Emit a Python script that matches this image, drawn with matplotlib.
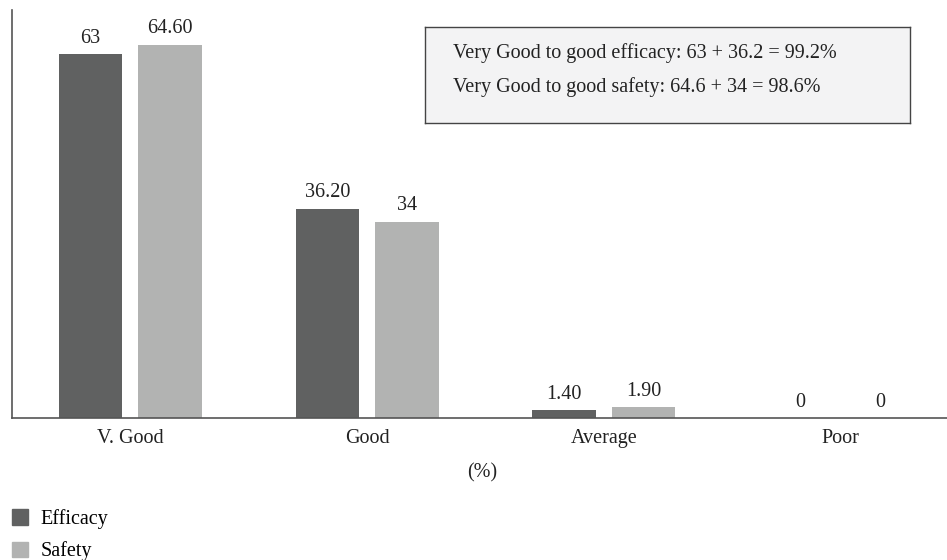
import matplotlib
matplotlib.use("Agg")
import matplotlib.pyplot as plt
from matplotlib.patches import Patch
import numpy as np

categories = ["V. Good", "Good", "Average", "Poor"]
efficacy = [63, 36.2, 1.4, 0]
safety = [64.6, 34, 1.9, 0]
eff_labels = ["63", "36.20", "1.40", "0"]
saf_labels = ["64.60", "34", "1.90", "0"]
note_lines = ["Very Good to good efficacy: 63 + 36.2 = 99.2%",
              "Very Good to good safety: 64.6 + 34 = 98.6%"]

plt.rcParams['font.family'] = ['Liberation Serif', 'DejaVu Serif']
FS = 14.5
W, H = 947, 560
fig = plt.figure(figsize=(W/100, H/100), dpi=100)
ax = fig.add_axes([12/W, (H-418)/H, 1-12/W, (418-10)/H])

c_eff = "#606161"
c_saf = "#b2b3b2"
x = np.arange(len(categories))
w = 0.268
off = 0.168
ax.bar(x-off, efficacy, w, color=c_eff)
ax.bar(x+off, safety, w, color=c_saf)
for xi, v, t in zip(x-off, efficacy, eff_labels):
    ax.text(xi, v+1.1, t, ha='center', va='bottom', fontsize=FS, color='#222')
for xi, v, t in zip(x+off, safety, saf_labels):
    ax.text(xi, v+1.1, t, ha='center', va='bottom', fontsize=FS, color='#222')

ax.set_xlim(-0.5, 3.45)
ax.set_ylim(0, 70.6)
ax.set_xticks(x)
ax.set_xticklabels(categories, fontsize=FS, color='#222')
ax.tick_params(axis='x', length=0, pad=8)
ax.set_yticks([])
for s in ['top', 'right']:
    ax.spines[s].set_visible(False)
for s in ['left', 'bottom']:
    ax.spines[s].set_color('#555')
    ax.spines[s].set_linewidth(1.2)

# note box
bx0, bx1, by0, by1 = 425, 910, 27, 123
box_ax = fig.add_axes([bx0/W, (H-by1)/H, (bx1-bx0)/W, (by1-by0)/H])
box_ax.set_xticks([]); box_ax.set_yticks([])
box_ax.set_facecolor('#f3f3f4')
for s in box_ax.spines.values():
    s.set_color('#444'); s.set_linewidth(1)
box_ax.text((453-bx0)/(bx1-bx0), 1-(53-by0)/(by1-by0), note_lines[0], transform=box_ax.transAxes,
            ha='left', va='center', fontsize=FS, color='#222')
box_ax.text((453-bx0)/(bx1-bx0), 1-(87-by0)/(by1-by0), note_lines[1], transform=box_ax.transAxes,
            ha='left', va='center', fontsize=FS, color='#222')

fig.text(482/W, 1-473/H, "(%)", ha='center', va='center', fontsize=FS, color='#222')

handles = [Patch(color=c_eff), Patch(color=c_saf)]
fig.legend(handles, ["Efficacy", "Safety"], loc='upper left',
           bbox_to_anchor=(4/W, 1-501/H), frameon=False, fontsize=FS,
           handlelength=0.8, handleheight=0.8, handletextpad=0.6,
           labelspacing=0.62, borderaxespad=0)

fig.savefig("out.png", dpi=100)
